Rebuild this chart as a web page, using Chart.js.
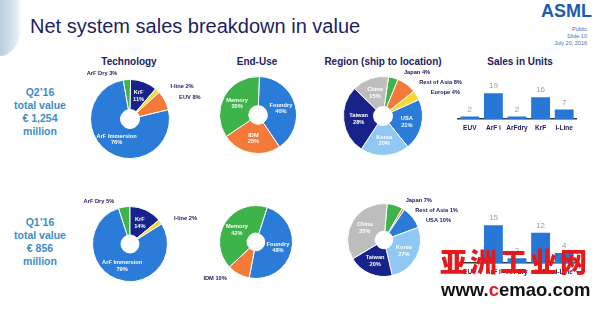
<!DOCTYPE html>
<html>
<head>
<meta charset="utf-8">
<script src="https://cdn.jsdelivr.net/npm/chart.js@4.4.1/dist/chart.umd.min.js"></script>
<style>
  html, body { margin: 0; padding: 0; background: #fff; }
  body { width: 598px; height: 319px; position: relative; overflow: hidden; font-family: "Liberation Sans", Arial, sans-serif; }
  .abs { position: absolute; white-space: nowrap; }
  canvas { position: absolute; }
  #corner { left: 0; top: 0; width: 22px; height: 56px; background: linear-gradient(to right, #b9cde0, #e2ebf3 75%, #ffffff); border-bottom-right-radius: 26px 40px; }
  #title { left: 30px; top: 16px; font-size: 20px; line-height: 20px; color: #1d1f5e; }
  #logo { left: 541px; top: 2px; font-size: 18px; line-height: 18px; font-weight: bold; color: #1a5cb0; }
  .meta { right: 11px; font-size: 5.5px; line-height: 6px; color: #3f6fb0; text-align: right; }
  .head { top: 57px; font-size: 10px; line-height: 10px; font-weight: bold; color: #1c2262; transform: translateX(-50%); }
  .total { left: 0; width: 80px; font-size: 10.5px; line-height: 13px; font-weight: bold; color: #3b8dc9; text-align: center; }
  #wm1 { left: 440px; top: 245px; font-family: "Noto Sans CJK SC"; font-weight: 900; font-size: 27px; line-height: 32px; letter-spacing: 3px; color: #e3191c; z-index: 5; }
  #wm2 { left: 441px; top: 280px; font-weight: bold; font-size: 18.5px; line-height: 19px; color: #111; z-index: 5; }
</style>
</head>
<body>
<div id="corner" class="abs"></div>
<div id="title" class="abs">Net system sales breakdown in value</div>
<div id="logo" class="abs">ASML</div>
<div class="abs meta" style="top:26px">Public</div>
<div class="abs meta" style="top:33px">Slide 10</div>
<div class="abs meta" style="top:40px">July 20, 2016</div>

<div class="abs head" style="left:129px">Technology</div>
<div class="abs head" style="left:257px">End-Use</div>
<div class="abs head" style="left:383px">Region (ship to location)</div>
<div class="abs head" style="left:520px">Sales in Units</div>

<div class="abs total" style="top:86px">Q2’16<br>total value<br>€ 1,254<br>million</div>
<div class="abs total" style="top:216px">Q1’16<br>total value<br>€ 856<br>million</div>

<canvas id="techQ2"></canvas>
<canvas id="endQ2"></canvas>
<canvas id="regionQ2"></canvas>
<canvas id="techQ1"></canvas>
<canvas id="endQ1"></canvas>
<canvas id="regionQ1"></canvas>
<canvas id="unitsQ2"></canvas>
<canvas id="unitsQ1"></canvas>

<div id="wm1" class="abs">亚洲工业网</div>
<div id="wm2" class="abs">www.<span style="color:#e3191c">c</span>emao.com</div>

<script>
// values
const techLabels = ['ArF Dry', 'KrF', 'I-line', 'EUV', 'ArF Immersion'];
const techQ2 = [3, 11, 2, 8, 76];
const techQ1 = [5, 14, 2, 0, 79];

const endUseLabels = ['Foundry', 'IDM', 'Memory'];
const endUseQ2 = [40, 25, 35];
const endUseQ1 = [48, 10, 42];

const regionLabels = ['Japan', 'Rest of Asia', 'Europe', 'USA', 'Korea', 'Taiwan', 'China'];
const regionQ2 = [4, 8, 4, 21, 20, 28, 15];
const regionQ1 = [7, 1, 0, 10, 27, 20, 35];

const unitLabels = ['EUV', 'ArF i', 'ArFdry', 'KrF', 'I-Line'];
const unitsQ2 = [2, 19, 2, 16, 7];
const unitsQ1 = [0, 15, 2, 12, 4];

const BLUE = '#2b7bd8', NAVY = '#17238a', GREEN = '#3db34a', ORANGE = '#f47a3a',
      YELLOW = '#f6d937', GREY = '#bdbdbd', LIGHT = '#8fc8f2';
const techColors = [GREEN, NAVY, YELLOW, ORANGE, BLUE];
const endUseColors = [BLUE, ORANGE, GREEN];
const regionColors = [GREEN, ORANGE, YELLOW, BLUE, LIGHT, NAVY, GREY];

const FONT = '"Liberation Sans", Arial, sans-serif';

// slice labels: big slices inside in white, small ones outside in navy
const sliceLabels = {
    id: 'sliceLabels',
    afterDatasetsDraw(chart) {
        const ctx = chart.ctx;
        const values = chart.data.datasets[0].data;
        const outside = [];
        ctx.save();
        ctx.font = 'bold 5.7px ' + FONT;
        ctx.textBaseline = 'middle';
        chart.getDatasetMeta(0).data.forEach((arc, i) => {
            const v = values[i];
            if (!v) return;
            const name = chart.data.labels[i];
            const mid = (arc.startAngle + arc.endAngle) / 2;
            if (v >= 11) {
                const rr = (arc.innerRadius + arc.outerRadius) / 2;
                const x = arc.x + Math.cos(mid) * rr;
                const y = arc.y + Math.sin(mid) * rr;
                ctx.fillStyle = '#fff';
                ctx.textAlign = 'center';
                ctx.fillText(name, x, y - 3.3);
                ctx.fillText(v + '%', x, y + 3.3);
            } else {
                const R = arc.outerRadius * 1.15;
                outside.push({
                    x: arc.x + Math.cos(mid) * R,
                    y: arc.y + Math.sin(mid) * R,
                    right: Math.cos(mid) >= 0,
                    text: name + ' ' + v + '%'
                });
            }
        });
        [true, false].forEach(side => {
            const list = outside.filter(o => o.right === side).sort((a, b) => a.y - b.y);
            for (let k = 1; k < list.length; k++) {
                if (list[k].y - list[k - 1].y < 10) list[k].y = list[k - 1].y + 10;
            }
            list.forEach(o => {
                ctx.fillStyle = '#1c2262';
                ctx.textAlign = side ? 'left' : 'right';
                ctx.fillText(o.text, o.x + (side ? 9 : -9), o.y);
            });
        });
        ctx.restore();
    }
};

function makePie(id, cx, cy, r, labels, values, colors, rotation) {
    const W = 180, H = 120;
    const cv = document.getElementById(id);
    cv.width = W; cv.height = H;
    cv.style.left = (cx - W / 2) + 'px';
    cv.style.top = (cy - H / 2) + 'px';
    return new Chart(cv, {
        type: 'doughnut',
        data: {
            labels: labels,
            datasets: [{
                data: values,
                backgroundColor: colors,
                borderColor: '#fff',
                borderWidth: 1
            }]
        },
        options: {
            responsive: false,
            animation: false,
            rotation: rotation,
            cutout: '24%',
            layout: { padding: { left: W / 2 - r, right: W / 2 - r, top: H / 2 - r, bottom: H / 2 - r } },
            plugins: { legend: { display: false }, tooltip: { enabled: false } }
        },
        plugins: [sliceLabels]
    });
}

const barValues = {
    id: 'barValues',
    afterDatasetsDraw(chart) {
        const ctx = chart.ctx;
        const values = chart.data.datasets[0].data;
        ctx.save();
        ctx.font = '8px ' + FONT;
        ctx.fillStyle = '#9b9b9b';
        ctx.textAlign = 'center';
        ctx.textBaseline = 'bottom';
        chart.getDatasetMeta(0).data.forEach((bar, i) => {
            if (!values[i]) return;
            ctx.fillText(values[i], bar.x, bar.y - 3);
        });
        ctx.restore();
    }
};

function makeBars(id, left, top, h, values, ymax) {
    const cv = document.getElementById(id);
    cv.width = 124; cv.height = h;
    cv.style.left = left + 'px';
    cv.style.top = top + 'px';
    return new Chart(cv, {
        type: 'bar',
        data: {
            labels: unitLabels,
            datasets: [{
                data: values,
                backgroundColor: '#2677d6',
                barPercentage: 0.8,
                categoryPercentage: 1
            }]
        },
        options: {
            responsive: false,
            animation: false,
            layout: { padding: { left: 2, right: 4, top: 0, bottom: 0 } },
            scales: {
                x: {
                    grid: { display: false, drawTicks: false },
                    border: { color: '#3a3a3a', width: 1.5 },
                    ticks: {
                        color: '#1c2262', padding: 5, autoSkip: false,
                        maxRotation: 0, minRotation: 0,
                        font: { size: 6.5, weight: 'bold', family: FONT }
                    }
                },
                y: { display: false, min: 0, max: ymax }
            },
            plugins: { legend: { display: false }, tooltip: { enabled: false } }
        },
        plugins: [barValues]
    });
}

makePie('techQ2', 130, 119, 40, techLabels, techQ2, techColors, -10);
makePie('endQ2', 258, 115, 39, endUseLabels, endUseQ2, endUseColors, 2);
makePie('regionQ2', 383, 116, 40, regionLabels, regionQ2, regionColors, 8);
makePie('techQ1', 130, 244, 38, techLabels, techQ1, techColors, -18);
makePie('endQ1', 256, 242, 37, endUseLabels, endUseQ1, endUseColors, 18);
makePie('regionQ1', 384, 240, 37, regionLabels, regionQ1, regionColors, 5);

makeBars('unitsQ2', 456, 74, 63, unitsQ2, 33);
makeBars('unitsQ1', 456, 205, 76, unitsQ1, 23);
</script>
</body>
</html>
